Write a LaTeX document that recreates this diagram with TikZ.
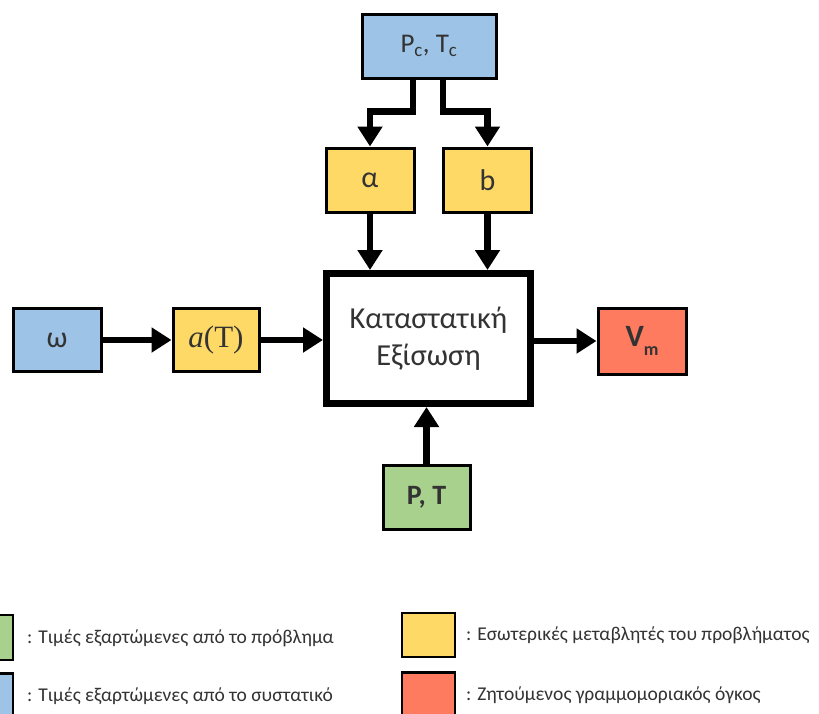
\documentclass[tikz,border=0pt]{standalone}
\usepackage{fontspec}
\setmainfont{Carlito}
\newfontfamily\mathserif{Liberation Serif}
\usetikzlibrary{arrows.meta}
\definecolor{cblue}{HTML}{9DC3E6}
\definecolor{cyellow}{HTML}{FFD966}
\definecolor{cgreen}{HTML}{A9D18E}
\definecolor{cred}{HTML}{FF7B5F}
\definecolor{ctext}{HTML}{333333}
\tikzset{
  box/.style={draw=black, line width=3pt, minimum width=#1, inner sep=0pt,
    font=\fontsize{30}{32}\selectfont, text=ctext},
  box/.default=88pt,
  arr/.style={line width=6.5pt, -{Triangle[length=20pt,width=24pt]}},
  legbox/.style={draw=black, line width=2.8pt, inner sep=0pt},
  legtext/.style={anchor=west, font=\fontsize{19.5}{22}\selectfont, text=ctext, inner sep=0pt}
}
\begin{document}
\begin{tikzpicture}[x=1pt,y=-1pt]
\useasboundingbox (0,0) rectangle (819,713);
\clip (0,0) rectangle (819,713);
\fill[white] (0,0) rectangle (819,713);

% input and intermediate boxes
\node[box=134pt, minimum height=64pt, fill=cblue, font=\fontsize{27}{30}\selectfont] (pc) at (429,46) {P\textsubscript{c}, T\textsubscript{c}};
\node[box=88pt, minimum height=64pt, fill=cyellow] (alpha) at (370,180) {α};
\node[box=88pt, minimum height=64pt, fill=cyellow] (b) at (487.5,180) {b};
\node[box=88pt, minimum height=63pt, fill=cblue] (omega) at (57,340) {ω};
\node[box=86pt, minimum height=63pt, fill=cyellow, font=\fontsize{31}{33}\selectfont] (aT) at (216,340) {\mathserif\itshape a\upshape(T)};
\node[box=88pt, minimum height=66pt, fill=cred, font=\fontsize{31}{33}\selectfont\bfseries] (vm) at (642,341) {V\raisebox{-0.28em}{\fontsize{18}{20}\selectfont m}};
\node[box=87pt, minimum height=64pt, fill=cgreen, font=\fontsize{28}{30}\selectfont\bfseries] (pt) at (426.5,497) {P, T};

% the equation of state
\node[draw=black, line width=7pt, minimum width=204pt, minimum height=130pt, fill=white,
  align=center, font=\fontsize{30.5}{37}\selectfont, text=ctext] (eos) at (428.5,338.5)
  {Καταστατική\\Εξίσωση};

% connectors
\draw[arr] ([xshift=-16pt]pc.south) -- ++(0,32) -| (alpha.north);
\draw[arr] ([xshift=14pt]pc.south) -- ++(0,32) -| (b.north);
\draw[arr] (alpha.south) -- (alpha.south |- eos.north);
\draw[arr] (b.south) -- (b.south |- eos.north);
\draw[arr] (omega.east) -- (aT.west);
\draw[arr] (aT.east) -- (aT.east -| eos.west);
\draw[arr] (eos.east |- vm.west) -- (vm.west);
\draw[arr] (pt.north) -- (pt.north |- eos.south);

% legend
\node[legbox, fill=cgreen, minimum width=44pt, minimum height=45pt] (lg) at (-9,637.5) {};
\node[legtext] (lgt) at (27,638) {: Τιμές εξαρτώμενες από το πρόβλημα};
\node[legbox, fill=cblue, minimum width=44pt, minimum height=45pt] (lb) at (-9,696) {};
\node[legtext] (lbt) at (27,696) {: Τιμές εξαρτώμενες από το συστατικό};
\node[legbox, fill=cyellow, minimum width=53pt, minimum height=44pt] (ly) at (428.5,635) {};
\node[legtext] (lyt) at (466,635) {: Εσωτερικές μεταβλητές του προβλήματος};
\node[legbox, fill=cred, minimum width=53pt, minimum height=45pt] (lr) at (428.5,695) {};
\node[legtext] (lrt) at (466,695) {: Ζητούμενος γραμμομοριακός όγκος};
\end{tikzpicture}
\end{document}
